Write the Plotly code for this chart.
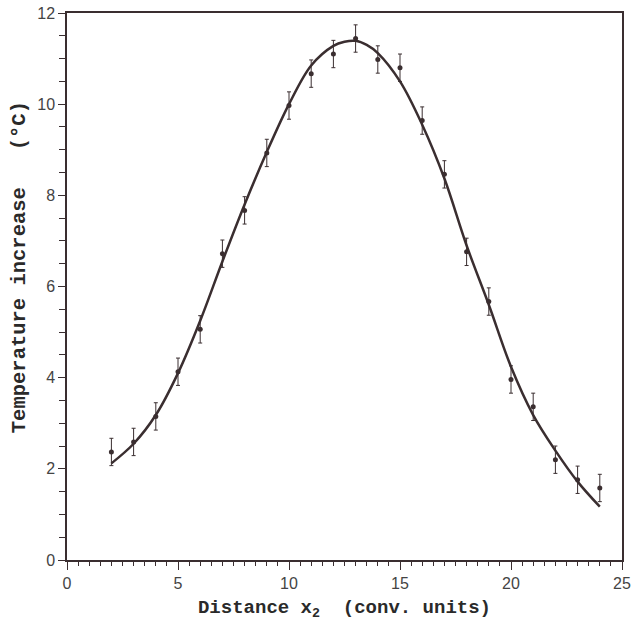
import plotly.graph_objects as go

# measured points
x_pts = [2, 3, 4, 5, 6, 7, 8, 9, 10, 11, 12, 13, 14, 15, 16, 17, 18, 19, 20, 21, 22, 23, 24]
y_pts = [2.37, 2.59, 3.15, 4.13, 5.06, 6.72, 7.67, 8.93, 9.97, 10.67, 11.1, 11.44, 10.98, 10.8,
         9.64, 8.46, 6.76, 5.67, 3.96, 3.36, 2.2, 1.76, 1.58]
y_err = [0.3] * len(x_pts)

# fitted curve
x_fit = [2, 3, 4, 5, 6, 7, 8, 9, 10, 11, 12, 12.5, 13, 13.5, 14, 15, 16, 17, 18, 19, 20, 21, 22, 23, 24]
y_fit = [2.12, 2.55, 3.18, 4.1, 5.25, 6.55, 7.8, 8.95, 10.0, 10.85, 11.28, 11.37, 11.39, 11.3, 11.12,
         10.5, 9.55, 8.37, 6.9, 5.6, 4.24, 3.18, 2.4, 1.72, 1.17]

x_major = [0, 5, 10, 15, 20, 25]
y_major = [0, 2, 4, 6, 8, 10, 12]

ink = "#3a2e30"

fig = go.Figure()
fig.add_trace(go.Scatter(x=x_fit, y=y_fit, mode="lines", line=dict(color=ink, width=2.5, shape="spline"),
                         hoverinfo="skip", showlegend=False))
fig.add_trace(go.Scatter(x=x_pts, y=y_pts, mode="markers",
                         marker=dict(color=ink, size=5),
                         error_y=dict(type="data", array=y_err, color=ink, thickness=1, width=2),
                         showlegend=False))

x_font = dict(family="Liberation Mono, monospace", size=19, color="#2a2a2a")
y_font = dict(family="Liberation Mono, monospace", size=20.5, color="#2a2a2a")
tick_font = dict(family="Liberation Sans, Arial, sans-serif", size=16, color="#444444")

fig.update_xaxes(range=[0, 25], tickvals=x_major, ticktext=[str(v) for v in x_major], automargin=False,
                 ticklabeloverflow="allow",
                 showgrid=False, zeroline=False, showline=True, mirror=True, linecolor=ink, linewidth=1.5,
                 ticks="outside", ticklen=8, tickwidth=1, tickcolor=ink, tickfont=tick_font,
                 minor=dict(dtick=0.5, tick0=0, ticks="outside", ticklen=4, tickcolor=ink, showgrid=False),
                 title=dict(text="<b>Distance x<sub>2</sub>\u00a0\u00a0(conv. units)</b>", font=x_font,
                            standoff=11))
fig.update_yaxes(range=[0, 12], tickvals=y_major, ticktext=[str(v) for v in y_major], automargin=False,
                 ticklabeloverflow="allow",
                 showgrid=False, zeroline=False, showline=True, mirror=True, linecolor=ink, linewidth=1.5,
                 ticks="outside", ticklen=7, tickwidth=1, tickcolor=ink, tickfont=tick_font,
                 minor=dict(dtick=0.5, tick0=0, ticks="outside", ticklen=6, tickcolor=ink, showgrid=False))

# y-axis title placed as a rotated annotation (slightly above the axis centre, as in the original)
fig.add_annotation(text="<b>Temperature increase\u00a0\u00a0\u00a0(°C)</b>", font=y_font,
                   xref="paper", yref="paper", x=-0.085, y=0.535, xanchor="center", yanchor="middle",
                   textangle=-90, showarrow=False)

fig.update_layout(width=631, height=621, margin=dict(l=67, r=9, t=13, b=61),
                  paper_bgcolor="white", plot_bgcolor="white")

fig.write_html("out.html", config={"displayModeBar": False},
               post_script="document.body.style.margin='0';")
